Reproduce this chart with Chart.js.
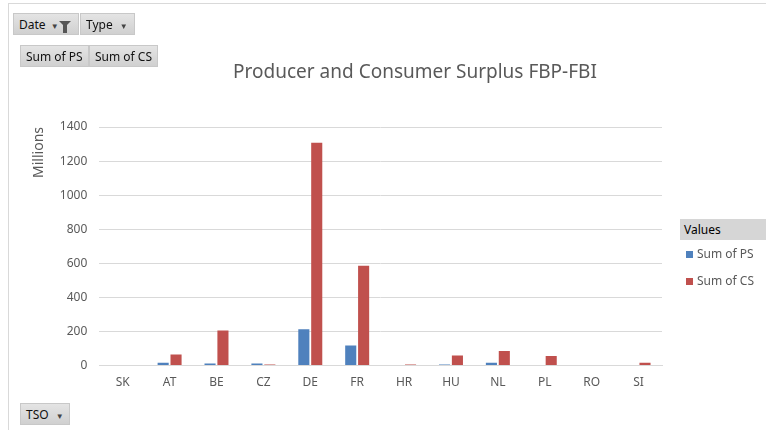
<!DOCTYPE html>
<html lang="en">
<head>
    <meta charset="UTF-8">
    <title>Producer and Consumer Surplus FBP-FBI</title>
    <script src="https://cdn.jsdelivr.net/npm/chart.js"></script>
    <style>
        body {
            margin: 0;
            width: 766px;
            height: 430px;
            background: white;
            position: relative;
            overflow: hidden;
            font-family: "Noto Sans", sans-serif;
        }
        #frame {
            position: absolute;
            left: 8px;
            top: 3px;
            right: 0;
            bottom: 0;
            border-left: 1px solid #d9d9d9;
            border-top: 1px solid #d9d9d9;
        }
        #chartBox {
            position: absolute;
            left: 0;
            top: 0;
            width: 766px;
            height: 430px;
        }
        #title {
            position: absolute;
            left: 215px;
            width: 400px;
            top: 58px;
            text-align: center;
            font-size: 19px;
            color: #595959;
        }
        .btn {
            position: absolute;
            height: 22px;
            line-height: 22px;
            background: linear-gradient(#e4e4e4, #d0d0d0);
            border: 1px solid #c8c8c8;
            font-size: 12px;
            color: #111;
            padding: 0 5px;
            box-sizing: border-box;
            white-space: nowrap;
        }
        .arrow {
            font-size: 8px;
            color: #444;
            margin-left: 4px;
        }
        .funnel {
            display: inline-block;
            width: 0;
            height: 0;
            border-left: 6px solid transparent;
            border-right: 6px solid transparent;
            border-top: 6px solid #555;
            position: relative;
            top: -2px;
        }
        .funnel::after {
            content: "";
            position: absolute;
            left: -2px;
            top: -2px;
            width: 4px;
            height: 8px;
            background: #555;
        }
        #legendHead {
            position: absolute;
            left: 680px;
            top: 219px;
            width: 86px;
            height: 21px;
            line-height: 21px;
            background: #d6d6d6;
            font-size: 12px;
            padding-left: 4px;
            box-sizing: border-box;
        }
        .legItem {
            position: absolute;
            left: 686px;
            font-size: 12px;
            color: #595959;
        }
        .legItem span {
            display: inline-block;
            width: 7px;
            height: 7px;
            margin-right: 4px;
        }
    </style>
</head>
<body>
    <div id="frame"></div>
    <div id="chartBox"><canvas id="surplusChart"></canvas></div>
    <div id="title">Producer and Consumer Surplus FBP-FBI</div>

    <div class="btn" style="left:13px; top:13px; width:66px;">Date <span class="arrow" style="margin-left:2px">&#9660;</span><span class="funnel"></span></div>
    <div class="btn" style="left:80px; top:13px; width:55px;">Type <span class="arrow">&#9660;</span></div>
    <div class="btn" style="left:20px; top:45px; width:69px;">Sum of PS</div>
    <div class="btn" style="left:89px; top:45px; width:69px;">Sum of CS</div>
    <div class="btn" style="left:20px; top:403px; width:50px;">TSO <span class="arrow">&#9660;</span></div>

    <div id="legendHead">Values</div>
    <div id="legend"></div>

    <script>
        // values in millions
        const tsoNames = ["SK", "AT", "BE", "CZ", "DE", "FR", "HR", "HU", "NL", "PL", "RO", "SI"];
        const sumPS = [0, 16, 12, 12, 213, 118, 0, 6, 16, 0, 0, 0];
        const sumCS = [0, 65, 206, 6, 1308, 586, 6, 59, 86, 57, 0, 16];
        const yTicks = [0, 200, 400, 600, 800, 1000, 1200, 1400];

        const seriesNames = ["Sum of PS", "Sum of CS"];
        const seriesColors = ["#4f81bd", "#c0504d"];

        const ctx = document.getElementById("surplusChart").getContext("2d");

        const surplusChart = new Chart(ctx, {
            type: "bar",
            data: {
                labels: tsoNames,
                datasets: [
                    {
                        label: seriesNames[0],
                        data: sumPS,
                        backgroundColor: seriesColors[0],
                        categoryPercentage: 0.55,
                        barPercentage: 0.86
                    },
                    {
                        label: seriesNames[1],
                        data: sumCS,
                        backgroundColor: seriesColors[1],
                        categoryPercentage: 0.55,
                        barPercentage: 0.86
                    }
                ]
            },
            options: {
                responsive: true,
                maintainAspectRatio: false,
                animation: false,
                layout: {
                    padding: { left: 27, right: 104, top: 127, bottom: 30 }
                },
                plugins: {
                    legend: { display: false },
                    tooltip: { enabled: false }
                },
                scales: {
                    x: {
                        grid: { display: false, drawTicks: false },
                        border: { color: "#d9d9d9" },
                        ticks: {
                            color: "#595959",
                            font: { family: "Noto Sans", size: 12 },
                            padding: 10
                        }
                    },
                    y: {
                        min: 0,
                        max: 1400,
                        afterBuildTicks: (axis) => {
                            axis.ticks = yTicks.map(v => ({ value: v }));
                        },
                        grid: { color: "#d9d9d9", drawTicks: false },
                        border: { display: false },
                        ticks: {
                            color: "#595959",
                            font: { family: "Noto Sans", size: 12 },
                            padding: 12,
                            callback: (v) => String(v)
                        },
                        title: {
                            display: true,
                            text: "Millions",
                            align: "end",
                            color: "#595959",
                            font: { family: "Noto Sans", size: 14 },
                            padding: { bottom: 0 }
                        }
                    }
                }
            }
        });

        // legend entries from the series arrays
        const legendBox = document.getElementById("legend");
        seriesNames.forEach((name, i) => {
            const item = document.createElement("div");
            item.className = "legItem";
            item.style.top = (245 + i * 27) + "px";
            item.innerHTML = '<span style="background:' + seriesColors[i] + '"></span>' + name;
            legendBox.appendChild(item);
        });
    </script>
</body>
</html>
